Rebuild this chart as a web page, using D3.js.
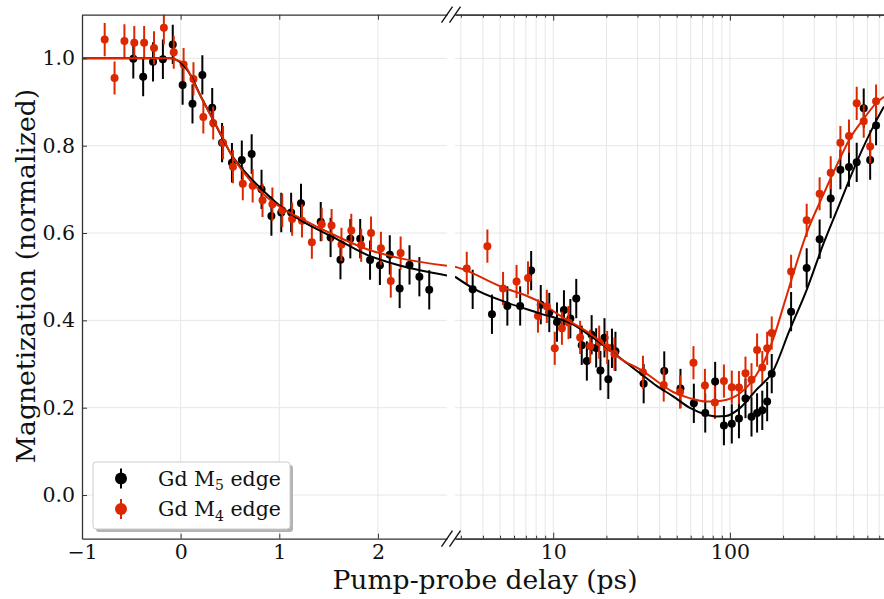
<!DOCTYPE html>
<html>
<head>
<meta charset="utf-8">
<script src="https://cdn.jsdelivr.net/npm/d3@7"></script>
<style>
  body { margin: 0; background: #fff; }
  text { font-family: "DejaVu Serif", serif; }
</style>
</head>
<body>
<svg id="chart" width="884" height="599"></svg>
<script>
// ---- data ----
// early delays (linear panel), ps
const m5EarlyT = [-0.48,-0.38,-0.28,-0.18,-0.08,0.02,0.12,0.22,0.32,0.42,0.52,0.62,0.72,0.82,0.92,1.02,1.12,1.22,1.42,1.52,1.62,1.72,1.82,1.92,2.02,2.12,2.22,2.32,2.42,2.52];
const m5EarlyV = [0.999,0.958,0.992,0.998,1.032,0.939,0.896,0.962,0.887,0.807,0.761,0.767,0.781,0.700,0.639,0.647,0.647,0.668,0.626,0.590,0.539,0.587,0.587,0.538,0.526,0.550,0.473,0.527,0.500,0.470];
const m4EarlyT = [-0.77,-0.67,-0.57,-0.47,-0.37,-0.27,-0.17,-0.07,0.03,0.13,0.23,0.33,0.43,0.53,0.63,0.73,0.83,0.93,1.03,1.13,1.23,1.33,1.43,1.53,1.63,1.73,1.83,1.93,2.03,2.13,2.23];
const m4EarlyV = [1.043,0.955,1.040,1.036,1.036,1.024,1.070,1.014,0.986,0.953,0.866,0.852,0.807,0.752,0.713,0.708,0.675,0.666,0.652,0.632,0.628,0.579,0.620,0.617,0.574,0.606,0.572,0.600,0.565,0.490,0.554];

// late delays (log panel), ps
const m5LateT = [3.5,4.5,5.5,6.5,7.5,8.5,9.5,10.5,11.5,12.5,13.5,14.5,15.5,16.5,17.5,18.5,19.5,20.5,21.5,22.5,32.5,42.5,52.5,62.5,72.5,82.5,92.5,102.5,112.5,122.5,132.5,142.5,152.5,162.5,172.5,222,272,322,372,422,472,522,572,622,672];
const m5LateV = [0.471,0.414,0.433,0.433,0.514,0.436,0.418,0.396,0.424,0.404,0.450,0.343,0.307,0.367,0.337,0.285,0.360,0.265,0.336,0.329,0.255,0.284,0.244,0.210,0.188,0.260,0.159,0.163,0.175,0.221,0.179,0.188,0.194,0.214,0.278,0.420,0.520,0.586,0.679,0.745,0.751,0.762,0.886,0.767,0.846];
const m4LateT = [3.24,4.24,5.2,6.2,7.2,8.2,9.2,10.2,11.2,12.2,14.2,16.2,18.2,20.2,22.2,32.2,42.2,52.2,62.2,72.2,82.2,92.5,102.5,112.5,122.5,132.5,142.5,152.5,162.5,172.5,222,272,322,372,422,472,522,572,622,672];
const m4LateV = [0.519,0.570,0.473,0.489,0.497,0.410,0.432,0.336,0.382,0.395,0.361,0.341,0.350,0.338,0.323,0.281,0.252,0.236,0.303,0.251,0.212,0.261,0.247,0.246,0.279,0.264,0.332,0.292,0.336,0.371,0.512,0.629,0.690,0.738,0.807,0.822,0.897,0.856,0.798,0.902];

const m5Err = 0.045, m4Err = 0.038;

// fit curves
const m5FitEarlyT = [-1,-0.1,-0.05,0,0.1,0.2,0.3,0.4,0.5,0.7,0.87,1.04,1.21,1.55,1.89,2.23,2.7];
const m5FitEarlyV = [1,1,0.997,0.99,0.962,0.915,0.872,0.828,0.785,0.728,0.690,0.656,0.630,0.590,0.550,0.525,0.503];
const m4FitEarlyT = [-1,-0.1,-0.05,0.03,0.13,0.23,0.33,0.42,0.5,0.7,0.87,1.04,1.21,1.55,1.89,2.23,2.7];
const m4FitEarlyV = [1,1,0.997,0.989,0.946,0.901,0.859,0.821,0.785,0.722,0.683,0.655,0.634,0.596,0.563,0.542,0.525];
const m5FitLateT = [2.78,3.5,5.45,8.4,13,16.4,20,24.9,31,38.5,47.7,59,73.7,84,95,114,141,175,218,272,338,419,521,675,745];
const m5FitLateV = [0.500,0.474,0.441,0.416,0.390,0.363,0.338,0.308,0.279,0.250,0.226,0.200,0.184,0.180,0.181,0.199,0.241,0.283,0.378,0.470,0.575,0.668,0.762,0.858,0.890];
const m4FitLateT = [2.78,3.24,3.84,5.45,6.9,8.4,10.7,16.5,25.4,31,47.7,59,73.7,90,114,141,160,175,200,218,272,338,419,471,573,675,745];
const m4FitLateV = [0.523,0.514,0.500,0.472,0.458,0.442,0.413,0.367,0.306,0.288,0.236,0.222,0.214,0.216,0.233,0.275,0.315,0.355,0.430,0.480,0.600,0.688,0.770,0.812,0.862,0.898,0.912];

const yTicks = [0, 0.2, 0.4, 0.6, 0.8, 1.0];
const xTicksEarly = [-1, 0, 1, 2];
const xTicksLate = [10, 100];

const black = "#000000", red = "#dc2800";

// ---- layout ----
const svg = d3.select("#chart");
const yTop = 14.7, yBot = 538.7;
const y = d3.scaleLinear().domain([-0.1, 1.1]).range([yBot, yTop]);
const xL = d3.scaleLinear().domain([-1, 2.7]).range([82, 447]);
const xR = d3.scaleLog().domain([2.78, 745]).range([455, 884]);

const minorLate = xR.ticks().filter(d => xTicksLate.indexOf(d) < 0);
const gridCol = "#e6e6e6";

// clip paths
const defs = svg.append("defs");
defs.append("clipPath").attr("id", "clipL").append("rect")
  .attr("x", 82).attr("y", yTop).attr("width", 447 - 82).attr("height", yBot - yTop);
defs.append("clipPath").attr("id", "clipR").append("rect")
  .attr("x", 455).attr("y", yTop).attr("width", 884 - 455).attr("height", yBot - yTop);

// grids
const grid = svg.append("g");
grid.selectAll(".gyl").data(yTicks).enter().append("line")
  .attr("x1", 82).attr("x2", 447).attr("y1", d => y(d)).attr("y2", d => y(d))
  .attr("stroke", gridCol).attr("stroke-width", 1);
grid.selectAll(".gyr").data(yTicks).enter().append("line")
  .attr("x1", 455).attr("x2", 884).attr("y1", d => y(d)).attr("y2", d => y(d))
  .attr("stroke", gridCol).attr("stroke-width", 1);
grid.selectAll(".gxl").data(xTicksEarly.slice(1)).enter().append("line")
  .attr("x1", d => xL(d)).attr("x2", d => xL(d)).attr("y1", yTop).attr("y2", yBot)
  .attr("stroke", gridCol).attr("stroke-width", 1);
grid.selectAll(".gxr").data(xR.ticks()).enter().append("line")
  .attr("x1", d => xR(d)).attr("x2", d => xR(d)).attr("y1", yTop).attr("y2", yBot)
  .attr("stroke", gridCol).attr("stroke-width", 1);

// curves
const lineL = d3.line().x(d => xL(d[0])).y(d => y(d[1])).curve(d3.curveMonotoneX);
const lineR = d3.line().x(d => xR(d[0])).y(d => y(d[1])).curve(d3.curveMonotoneX);
const zip = (a, b) => a.map((d, i) => [d, b[i]]);

function drawErr(g, xs, ts, vs, err, col) {
  const pts = zip(ts, vs);
  g.selectAll(null).data(pts).enter().append("line")
    .attr("x1", d => xs(d[0])).attr("x2", d => xs(d[0]))
    .attr("y1", d => y(d[1] - err)).attr("y2", d => y(d[1] + err))
    .attr("stroke", col).attr("stroke-width", 2);
  g.selectAll(null).data(pts).enter().append("circle")
    .attr("cx", d => xs(d[0])).attr("cy", d => y(d[1])).attr("r", 4)
    .attr("fill", col);
}

const gL = svg.append("g").attr("clip-path", "url(#clipL)");
const gR = svg.append("g").attr("clip-path", "url(#clipR)");

drawErr(gL, xL, m5EarlyT, m5EarlyV, m5Err, black);
drawErr(gL, xL, m4EarlyT, m4EarlyV, m4Err, red);
gL.append("path").attr("d", lineL(zip(m5FitEarlyT, m5FitEarlyV)))
  .attr("fill", "none").attr("stroke", black).attr("stroke-width", 2);
gL.append("path").attr("d", lineL(zip(m4FitEarlyT, m4FitEarlyV)))
  .attr("fill", "none").attr("stroke", red).attr("stroke-width", 2);

drawErr(gR, xR, m5LateT, m5LateV, m5Err, black);
drawErr(gR, xR, m4LateT, m4LateV, m4Err, red);
gR.append("path").attr("d", lineR(zip(m5FitLateT, m5FitLateV)))
  .attr("fill", "none").attr("stroke", black).attr("stroke-width", 2);
gR.append("path").attr("d", lineR(zip(m4FitLateT, m4FitLateV)))
  .attr("fill", "none").attr("stroke", red).attr("stroke-width", 2);

// axes
function styleAxis(g) {
  g.selectAll("path.domain").attr("stroke", "#333").attr("stroke-width", 1.3);
  g.selectAll(".tick line").attr("stroke", "#333").attr("stroke-width", 1);
  g.selectAll("text").attr("font-family", "DejaVu Serif, serif").attr("font-size", 20.5).attr("fill", "#111");
}
const fmt = d3.format(".1f");

svg.append("g").attr("transform", `translate(82,0)`)
  .call(d3.axisLeft(y).tickValues(yTicks).tickFormat(fmt).tickSize(-5).tickPadding(7).tickSizeOuter(0))
  .call(styleAxis);

svg.append("g").attr("transform", `translate(0,${yBot})`)
  .call(d3.axisBottom(xL).tickValues(xTicksEarly).tickFormat(d3.format("d")).tickSize(-5).tickPadding(6).tickSizeOuter(0))
  .call(styleAxis);
svg.append("g").attr("transform", `translate(0,${yTop})`)
  .call(d3.axisTop(xL).tickValues(xTicksEarly).tickFormat("").tickSize(-5).tickSizeOuter(0))
  .call(styleAxis);

svg.append("g").attr("transform", `translate(0,${yBot})`)
  .call(d3.axisBottom(xR).tickValues(xTicksLate).tickFormat(d3.format("d")).tickSize(-6).tickPadding(6).tickSizeOuter(0))
  .call(styleAxis);
svg.append("g").attr("transform", `translate(0,${yBot})`)
  .call(d3.axisBottom(xR).tickValues(minorLate).tickFormat("").tickSize(-3).tickSizeOuter(0))
  .call(styleAxis);
svg.append("g").attr("transform", `translate(0,${yTop})`)
  .call(d3.axisTop(xR).tickValues(xTicksLate).tickFormat("").tickSize(-6).tickSizeOuter(0))
  .call(styleAxis);
svg.append("g").attr("transform", `translate(0,${yTop})`)
  .call(d3.axisTop(xR).tickValues(minorLate).tickFormat("").tickSize(-3).tickSizeOuter(0))
  .call(styleAxis);

// break marks
const brk = svg.append("g").attr("stroke", "#111").attr("stroke-width", 1.4);
[447, 455].forEach(bx => {
  [yTop, yBot].forEach(by => {
    brk.append("line").attr("x1", bx - 5.5).attr("y1", by + 8).attr("x2", bx + 5.5).attr("y2", by - 8);
  });
});

// axis labels
svg.append("text").attr("x", 485).attr("y", 589).attr("text-anchor", "middle")
  .attr("font-size", 26.6).attr("fill", "#111").text("Pump-probe delay (ps)");
svg.append("text").attr("transform", "translate(35,276) rotate(-90)").attr("text-anchor", "middle")
  .attr("font-size", 26.6).attr("fill", "#111").text("Magnetization (normalized)");

// legend
const lg = svg.append("g");
lg.append("rect").attr("x", 96).attr("y", 465).attr("width", 197).attr("height", 67).attr("rx", 3)
  .attr("fill", "#b3b3b3");
lg.append("rect").attr("x", 93).attr("y", 462).attr("width", 197).attr("height", 67).attr("rx", 3)
  .attr("fill", "#fff").attr("stroke", "#cccccc").attr("stroke-width", 1);
const legendItems = [
  { col: black, sub: "5", yy: 478.5 },
  { col: red, sub: "4", yy: 509 }
];
legendItems.forEach(it => {
  lg.append("line").attr("x1", 121).attr("x2", 121).attr("y1", it.yy - 10).attr("y2", it.yy + 10)
    .attr("stroke", it.col).attr("stroke-width", 2);
  lg.append("circle").attr("cx", 121).attr("cy", it.yy).attr("r", 6).attr("fill", it.col);
  const t = lg.append("text").attr("x", 158).attr("y", it.yy + 7).attr("font-size", 20.5).attr("fill", "#111");
  t.append("tspan").text("Gd M");
  t.append("tspan").attr("font-size", 14).attr("dy", 4.5).text(it.sub);
  t.append("tspan").attr("dy", -4.5).text(" edge");
});
</script>
</body>
</html>
